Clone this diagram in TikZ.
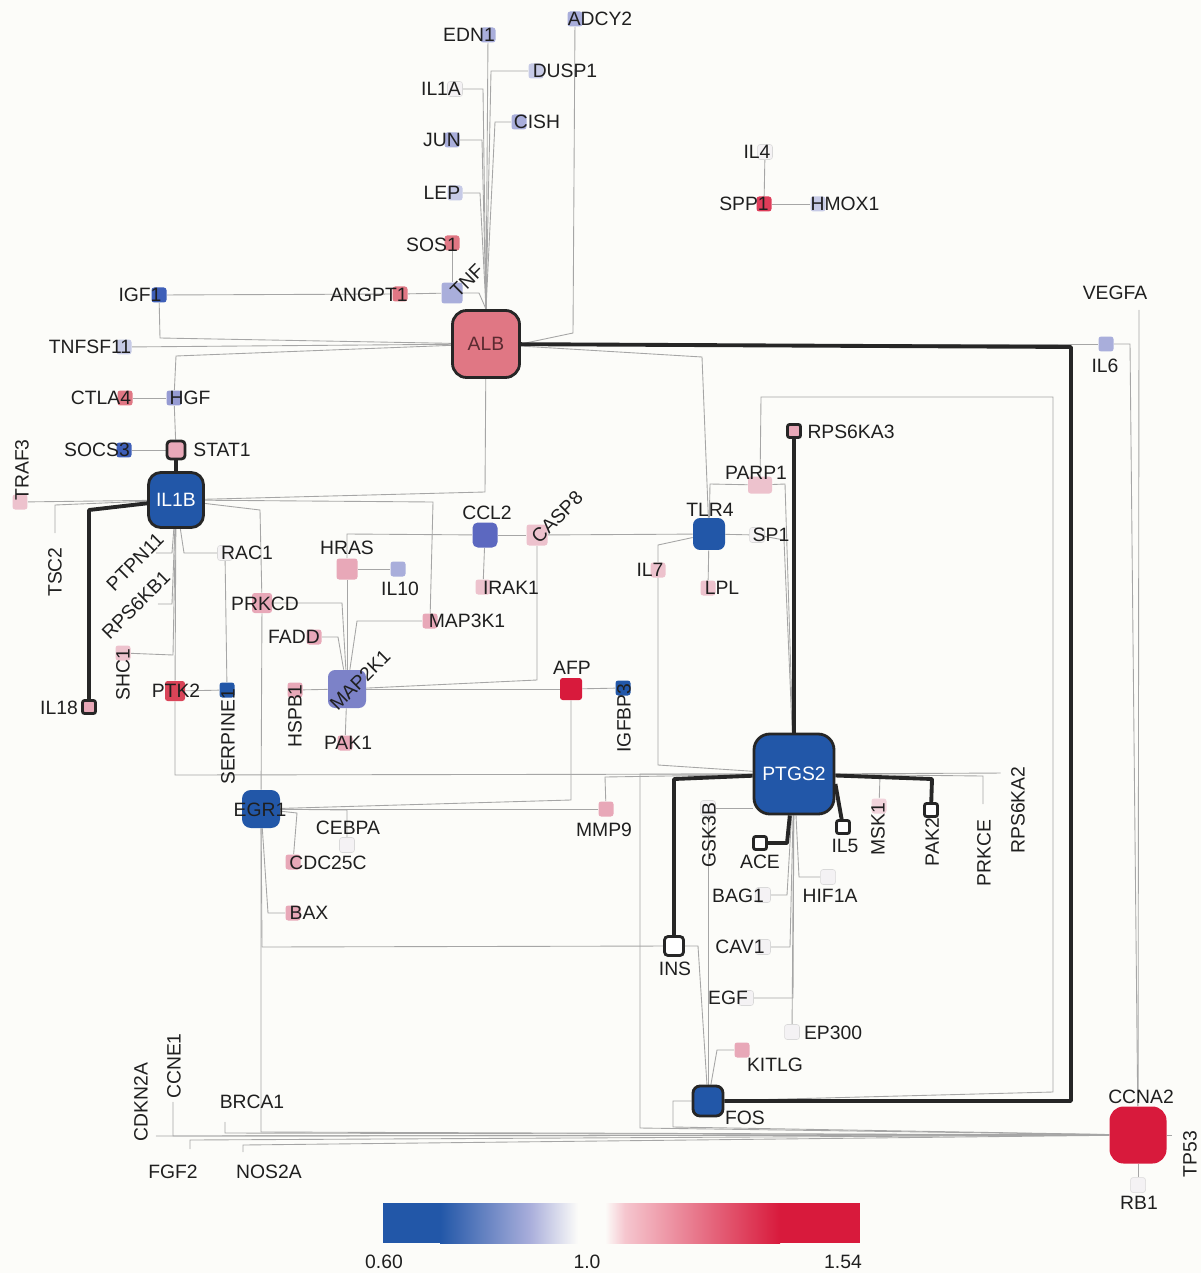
\documentclass[tikz,border=0pt]{standalone}
\usepackage{fontspec}
\setmainfont{Liberation Sans}
\usetikzlibrary{backgrounds, calc}
\definecolor{cBG}{HTML}{FCFCF9}
\definecolor{cBlue}{HTML}{2257A8}
\definecolor{cBlueM}{HTML}{3E5FB8}
\definecolor{cIndigo}{HTML}{5C68C0}
\definecolor{cMauve}{HTML}{7C82C8}
\definecolor{cLav}{HTML}{A9AEDB}
\definecolor{cLavL}{HTML}{C6CAE6}
\definecolor{cPink}{HTML}{E8A8B8}
\definecolor{cPinkL}{HTML}{EDC2CD}
\definecolor{cRose}{HTML}{E07784}
\definecolor{cRed}{HTML}{D81A3C}
\definecolor{cRedM}{HTML}{D94458}
\definecolor{cPale}{HTML}{F4F2F4}
\definecolor{cALBtxt}{HTML}{5A2A30}
\newcommand{\gfont}{\fontsize{11}{13}\selectfont}
\tikzset{
  genebox/.style={
    rectangle, fill=#1,
    rounded corners=1.5pt,
    minimum size=0.3cm,
    inner sep=0pt
  },
  palebox/.style={
    genebox=cPale,
    draw=black!15, line width=0.3pt
  },
  blankbox/.style={
    genebox=cBG
  },
  hubbox/.style={
    genebox=#1,
    draw=black!85, line width=1.6pt,
    rounded corners=1.2pt,
    font=\gfont
  },
  genelabel/.style={
    font=\gfont,
    text=black!88,
    inner sep=0pt
  },
  link/.style={
    draw=black!35, line width=0.5pt
  },
  boldlink/.style={
    draw=black!85, line width=2.2pt,
    line join=round
  }
}

\begin{document}
\begin{tikzpicture}[x=0.02cm, y=-0.02cm]
  \useasboundingbox (0,0) rectangle (1201,1273);

  % top fan round ALB
  \node[genebox=cLav] (ADCY2) at (575,19) {};
  \node[genebox=cLav] (EDN1) at (488,35) {};
  \node[palebox] (IL1A) at (455,89) {};
  \node[genebox=cLavL] (DUSP1) at (536,71) {};
  \node[genebox=cLav] (CISH) at (519,122) {};
  \node[genebox=cLav] (JUN) at (452,140) {};
  \node[genebox=cLavL] (LEP) at (455,193) {};
  \node[genebox=cRose] (SOS1) at (452,243) {};
  \node[genebox=cLav, minimum size=0.42cm] (TNF) at (452,293) {};
  \node[genebox=cRose] (ANGPT1) at (400,294) {};
  \node[genebox=cBlueM] (IGF1) at (159,295) {};
  \node[genebox=cLavL] (TNFSF11) at (124,347) {};
  \node[hubbox=cRose, minimum size=1.34cm, rounded corners=8pt, text=cALBtxt] (ALB) at (486,344) {ALB};
  \node[palebox] (IL4) at (765,152) {};
  \node[genebox=cRed!85!white] (SPP1) at (764,204) {};
  \node[genebox=cLavL] (HMOX1) at (818,204) {};
  \node[blankbox] (VEGFA) at (1139,302) {};
  \node[genebox=cLav] (IL6) at (1106,344) {};

  % IL1B cluster
  \node[genebox=cRose] (CTLA4) at (125,398) {};
  \node[genebox=cMauve!80!white] (HGF) at (174,398) {};
  \node[genebox=cBlueM] (SOCS3) at (124,450) {};
  \node[hubbox=cPink, minimum size=0.36cm, rounded corners=2pt] (STAT1) at (176,450) {};
  \node[genebox=cPinkL] (TRAF3) at (20,502) {};
  \node[hubbox=cBlue, minimum size=1.1cm, rounded corners=7pt, text=white] (IL1B) at (176,500) {IL1B};
  \node[blankbox] (TSC2) at (55,541) {};
  \node[blankbox] (PTPN11) at (148,553) {};
  \node[blankbox] (RPS6KB1) at (150,604) {};
  \node[genebox=cPinkL] (SHC1) at (123,653) {};
  \node[hubbox=cPink, minimum size=0.26cm] (IL18) at (89,707) {};
  \node[palebox] (RAC1) at (225,553) {};
  \node[genebox=cRedM, minimum size=0.4cm] (PTK2) at (175,691) {};
  \node[genebox=cBlue] (SERPINE1) at (227,690) {};
  \node[genebox=cPink, minimum size=0.4cm] (PRKCD) at (262,603) {};
  \node[genebox=cPink] (FADD) at (314,637) {};
  \node[genebox=cPink, minimum size=0.42cm] (HRAS) at (347,569) {};
  \node[genebox=cLav] (IL10) at (398,569) {};
  \node[genebox=cPink] (MAP3K1) at (430,621) {};
  \node[genebox=cMauve, minimum size=0.76cm, rounded corners=4pt] (MAP2K1) at (347,689) {};
  \node[genebox=cPink] (HSPB1) at (295,690) {};
  \node[genebox=cPink] (PAK1) at (345,743) {};

  % middle
  \node[genebox=cIndigo, minimum size=0.5cm, rounded corners=3pt] (CCL2) at (485,535) {};
  \node[genebox=cPinkL, minimum size=0.42cm] (CASP8) at (537,535) {};
  \node[genebox=cPinkL] (IRAK1) at (483,587) {};
  \node[genebox=cRed, minimum size=0.44cm] (AFP) at (571,689) {};
  \node[genebox=cBlue] (IGFBP3) at (623,688) {};
  \node[genebox=cBlue, minimum size=0.64cm, rounded corners=4pt] (TLR4) at (709,534) {};
  \node[palebox] (SP1) at (757,535) {};
  \node[genebox=cPinkL] (IL7) at (658,570) {};
  \node[genebox=cPinkL] (LPL) at (708,588) {};
  \node[genebox=cPinkL, minimum width=0.48cm, minimum height=0.34cm] (PARP1) at (760,485) {};
  \node[hubbox=cPink, minimum size=0.26cm] (RPS6KA3) at (794,431) {};

  % PTGS2 cluster
  \node[hubbox=cBlue, minimum size=1.6cm, rounded corners=9pt, text=white] (PTGS2) at (794,774) {PTGS2};
  \node[genebox=cBlue, minimum size=0.76cm, rounded corners=5pt] (EGR1) at (261,809) {};
  \node[palebox] (CEBPA) at (347,845) {};
  \node[genebox=cPink] (CDC25C) at (293,862) {};
  \node[genebox=cPink] (BAX) at (293,913) {};
  \node[genebox=cPink] (MMP9) at (606,809) {};
  \node[palebox] (GSK3B) at (708,808) {};
  \node[hubbox=white, minimum size=0.26cm] (ACE) at (760,843) {};
  \node[hubbox=white, minimum size=0.26cm] (IL5) at (843,827) {};
  \node[genebox=cPinkL!70!white] (MSK1) at (879,806) {};
  \node[hubbox=white, minimum size=0.26cm] (PAK2) at (931,810) {};
  \node[blankbox] (PRKCE) at (983,812) {};
  \node[blankbox] (RPS6KA2) at (1008,773) {};
  \node[palebox] (HIF1A) at (828,877) {};
  \node[palebox] (BAG1) at (763,895) {};
  \node[hubbox=white, minimum size=0.38cm, rounded corners=2pt] (INS) at (674,946) {};
  \node[palebox] (CAV1) at (763,947) {};
  \node[palebox] (EGF) at (746,998) {};
  \node[palebox] (EP300) at (792,1032) {};
  \node[genebox=cPink] (KITLG) at (742,1050) {};
  \node[hubbox=cBlue, minimum size=0.6cm, rounded corners=4pt] (FOS) at (708,1101) {};

  % bottom
  \node[genebox=cRed, minimum size=1.14cm, rounded corners=8pt] (CCNA2) at (1138,1135) {};
  \node[blankbox] (TP53) at (1180,1135) {};
  \node[palebox] (RB1) at (1138,1185) {};
  \node[blankbox] (CDKN2A) at (148,1136) {};
  \node[blankbox] (CCNE1) at (173,1094) {};
  \node[blankbox] (BRCA1) at (225,1114) {};
  \node[blankbox] (FGF2) at (190,1157) {};
  \node[blankbox] (NOS2A) at (243,1160) {};

  % labels
  \node[genelabel] (tADCY2) at (600,19) {ADCY2};
  \node[genelabel] (tEDN1) at (469,35) {EDN1};
  \node[genelabel] (tIL1A) at (441,89) {IL1A};
  \node[genelabel] (tDUSP1) at (565,71) {DUSP1};
  \node[genelabel] (tCISH) at (537,122) {CISH};
  \node[genelabel] (tJUN) at (442,140) {JUN};
  \node[genelabel] (tLEP) at (442,193) {LEP};
  \node[genelabel] (tSOS1) at (432,245) {SOS1};
  \node[genelabel, rotate=45] (tTNF) at (467,281) {TNF};
  \node[genelabel] (tANGPT1) at (369,295) {ANGPT1};
  \node[genelabel] (tIGF1) at (140,295) {IGF1};
  \node[genelabel] (tTNFSF11) at (90,347) {TNFSF11};
  \node[genelabel] (tIL4) at (757,152) {IL4};
  \node[genelabel] (tSPP1) at (744,204) {SPP1};
  \node[genelabel] (tHMOX1) at (845,204) {HMOX1};
  \node[genelabel] (tVEGFA) at (1115,293) {VEGFA};
  \node[genelabel] (tIL6) at (1105,366) {IL6};
  \node[genelabel] (tCTLA4) at (101,398) {CTLA4};
  \node[genelabel] (tHGF) at (190,398) {HGF};
  \node[genelabel] (tSOCS3) at (97,450) {SOCS3};
  \node[genelabel] (tSTAT1) at (222,450) {STAT1};
  \node[genelabel, rotate=90] (tTRAF3) at (22,470) {TRAF3};
  \node[genelabel, rotate=90] (tTSC2) at (55,572) {TSC2};
  \node[genelabel, rotate=45] (tPTPN11) at (135,562) {PTPN11};
  \node[genelabel, rotate=45] (tRPS6KB1) at (136,605) {RPS6KB1};
  \node[genelabel, rotate=90] (tSHC1) at (123,675) {SHC1};
  \node[genelabel] (tIL18) at (59,708) {IL18};
  \node[genelabel] (tRAC1) at (247,553) {RAC1};
  \node[genelabel] (tPTK2) at (176,691) {PTK2};
  \node[genelabel, rotate=90] (tSERPINE1) at (228,737) {SERPINE1};
  \node[genelabel] (tPRKCD) at (265,604) {PRKCD};
  \node[genelabel] (tFADD) at (294,637) {FADD};
  \node[genelabel] (tHRAS) at (347,548) {HRAS};
  \node[genelabel] (tIL10) at (400,589) {IL10};
  \node[genelabel] (tMAP3K1) at (467,621) {MAP3K1};
  \node[genelabel, rotate=45] (tMAP2K1) at (360,680) {MAP2K1};
  \node[genelabel, rotate=90] (tHSPB1) at (295,716) {HSPB1};
  \node[genelabel] (tPAK1) at (348,743) {PAK1};
  \node[genelabel] (tCCL2) at (487,513) {CCL2};
  \node[genelabel, rotate=45] (tCASP8) at (557,517) {CASP8};
  \node[genelabel] (tIRAK1) at (511,588) {IRAK1};
  \node[genelabel] (tAFP) at (572,668) {AFP};
  \node[genelabel, rotate=90] (tIGFBP3) at (624,718) {IGFBP3};
  \node[genelabel] (tTLR4) at (710,510) {TLR4};
  \node[genelabel] (tSP1) at (771,535) {SP1};
  \node[genelabel] (tIL7) at (650,570) {IL7};
  \node[genelabel] (tLPL) at (722,588) {LPL};
  \node[genelabel] (tPARP1) at (756,473) {PARP1};
  \node[genelabel] (tRPS6KA3) at (851,432) {RPS6KA3};
  \node[genelabel] (tEGR1) at (260,810) {EGR1};
  \node[genelabel] (tCEBPA) at (348,828) {CEBPA};
  \node[genelabel] (tCDC25C) at (328,863) {CDC25C};
  \node[genelabel] (tBAX) at (309,913) {BAX};
  \node[genelabel] (tMMP9) at (604,830) {MMP9};
  \node[genelabel, rotate=90] (tGSK3B) at (709,835) {GSK3B};
  \node[genelabel] (tACE) at (760,862) {ACE};
  \node[genelabel] (tIL5) at (845,846) {IL5};
  \node[genelabel, rotate=90] (tMSK1) at (878,829) {MSK1};
  \node[genelabel, rotate=90] (tPAK2) at (932,842) {PAK2};
  \node[genelabel, rotate=90] (tPRKCE) at (984,853) {PRKCE};
  \node[genelabel, rotate=90] (tRPS6KA2) at (1018,810) {RPS6KA2};
  \node[genelabel] (tHIF1A) at (830,896) {HIF1A};
  \node[genelabel] (tBAG1) at (738,896) {BAG1};
  \node[genelabel] (tINS) at (675,969) {INS};
  \node[genelabel] (tCAV1) at (740,947) {CAV1};
  \node[genelabel] (tEGF) at (728,998) {EGF};
  \node[genelabel] (tEP300) at (833,1033) {EP300};
  \node[genelabel] (tKITLG) at (775,1065) {KITLG};
  \node[genelabel] (tFOS) at (745,1118) {FOS};
  \node[genelabel] (tCCNA2) at (1141,1097) {CCNA2};
  \node[genelabel, rotate=90] (tTP53) at (1190,1154) {TP53};
  \node[genelabel] (tRB1) at (1139,1203) {RB1};
  \node[genelabel, rotate=90] (tCDKN2A) at (141,1102) {CDKN2A};
  \node[genelabel, rotate=90] (tCCNE1) at (174,1066) {CCNE1};
  \node[genelabel] (tBRCA1) at (252,1102) {BRCA1};
  \node[genelabel] (tFGF2) at (173,1172) {FGF2};
  \node[genelabel] (tNOS2A) at (269,1172) {NOS2A};

  % colour scale
  \fill[cBlue] (383,1203) rectangle (440,1243);
  \shade[left color=cBlue, right color=cLav] (440,1203) rectangle (530,1243);
  \shade[left color=cLav, right color=cBG] (530,1203) rectangle (578,1243);
  \shade[left color=cBG, right color=cRed!25!white] (605,1203) rectangle (625,1243);
  \shade[left color=cRed!25!white, right color=cRed] (625,1203) rectangle (780,1243);
  \fill[cRed] (780,1203) rectangle (860,1243);
  \node[genelabel] (vmin) at (384,1262) {0.60};
  \node[genelabel] (vmid) at (587,1262) {1.0};
  \node[genelabel] (vmax) at (843,1262) {1.54};

  \begin{scope}[on background layer]
    \fill[cBG] (0,0) rectangle (1201,1273);
    \draw[link] (ADCY2) -- (573,333) -- (ALB.east);
    \draw[link] (EDN1) -- (ALB.north);
    \draw[link] (IL1A) -- (483,89) -- (ALB.north);
    \draw[link] (DUSP1) -- (491,71) -- (ALB.north);
    \draw[link] (CISH) -- (495,122) -- (ALB.north);
    \draw[link] (JUN) -- (482,140) -- (ALB.north);
    \draw[link] (LEP) -- (480,193) -- (ALB.north);
    \draw[link] (TNF) -- (479,293) -- (ALB.north);
    \draw[link] (SOS1) -- (TNF);
    \draw[link] (ANGPT1) -- (TNF);
    \draw[link] (IGF1) -- (ANGPT1);
    \draw[link] (IGF1) -- (160,338) -- (ALB);
    \draw[link] (TNFSF11) -- (ALB);
    \draw[link] (HGF) -- (176,356) -- (ALB);
    \draw[link] (CTLA4) -- (HGF);
    \draw[link] (HGF) -- (STAT1);
    \draw[link] (SOCS3) -- (STAT1);
    \draw[link] (SPP1) -- (IL4);
    \draw[link] (SPP1) -- (HMOX1);
    \draw[link] (ALB) -- (IL6);
    \draw[link] (IL6) -- (1130,344) -- (CCNA2);
    \draw[link] (VEGFA) -- (CCNA2);
    \draw[link] (TRAF3) -- (IL1B);
    \draw[link] (TSC2) -- (55,505) -- (IL1B);
    \draw[link] (IL1B) -- (485,492) -- (ALB);
    \draw[link] (IL1B) -- (433,502) -- (MAP3K1);
    \draw[link] (PTPN11) -- (172,553) -- (IL1B);
    \draw[link] (RPS6KB1) -- (172,604) -- (IL1B);
    \draw[link] (SHC1) -- (173,655) -- (IL1B);
    \draw[link] (PTK2) -- (IL1B);
    \draw[link] (PTK2) -- (175,775) -- (PTGS2);
    \draw[link] (PTK2) -- (SERPINE1);
    \draw[link] (RAC1) -- (SERPINE1);
    \draw[link] (RAC1) -- (184,553) -- (IL1B);
    \draw[link] (IL1B) -- (260,510) -- (PRKCD);
    \draw[link] (PRKCD) -- (EGR1);
    \draw[link] (PRKCD) -- (342,603) -- (MAP2K1);
    \draw[link] (FADD) -- (338,637) -- (MAP2K1);
    \draw[link] (MAP3K1) -- (357,621) -- (MAP2K1);
    \draw[link] (HRAS) -- (MAP2K1);
    \draw[link] (HRAS) -- (IL10);
    \draw[link] (HRAS) -- (347,534) -- (CCL2);
    \draw[link] (CCL2) -- (CASP8);
    \draw[link] (CASP8) -- (TLR4);
    \draw[link] (CCL2) -- (IRAK1);
    \draw[link] (CASP8) -- (537,680) -- (MAP2K1);
    \draw[link] (HSPB1) -- (MAP2K1);
    \draw[link] (PAK1) -- (MAP2K1);
    \draw[link] (MAP2K1) -- (AFP);
    \draw[link] (AFP) -- (IGFBP3);
    \draw[link] (AFP) -- (571,800) -- (EGR1);
    \draw[link] (MMP9) -- (EGR1);
    \draw[link] (MMP9) -- (605,777) -- (PTGS2);
    \draw[link] (EGR1) -- (347,810) -- (CEBPA);
    \draw[link] (EGR1) -- (297,813) -- (CDC25C);
    \draw[link] (BAX) -- (268,913) -- (EGR1);
    \draw[link] (EGR1) -- (262,947) -- (INS);
    \draw[link] (EGR1) -- (261,1132) -- (CCNA2);
    \draw[link] (ALB) -- (702,357) -- (TLR4);
    \draw[link] (TLR4) -- (SP1);
    \draw[link] (TLR4) -- (LPL);
    \draw[link] (TLR4) -- (658,545) -- (IL7);
    \draw[link] (IL7) -- (658,765) -- (PTGS2);
    \draw[link] (PARP1) -- (710,484) -- (TLR4);
    \draw[link] (PARP1) -- (785,484) -- (PTGS2);
    \draw[link] (SP1) -- (784,540) -- (PTGS2);
    \draw[link] (PARP1) -- (761,397) -- (1053,397) -- (1053,1092) -- (FOS);
    \draw[link] (GSK3B) -- (GSK3B -| PTGS2.west);
    \draw[link] (GSK3B) -- (FOS);
    \draw[link] (PTGS2) -- (880,776) -- (MSK1);
    \draw[link] (PTGS2) -- (983,776) -- (PRKCE);
    \draw[link] (PTGS2) -- (1008,773) -- (RPS6KA2);
    \draw[link] (HIF1A) -- (799,877) -- (PTGS2);
    \draw[link] (BAG1) -- (787,895) -- (PTGS2);
    \draw[link] (CAV1) -- (790,947) -- (PTGS2);
    \draw[link] (EGF) -- (793,998) -- (PTGS2);
    \draw[link] (EP300) -- (PTGS2);
    \draw[link] (KITLG) -- (717,1050) -- (FOS);
    \draw[link] (INS) -- (698,946) -- (FOS);
    \draw[link] (FOS) -- (673,1101) -- (673,1127) -- (CCNA2);
    \draw[link] (PTGS2) -- (640,774) -- (640,1128) -- (CCNA2);
    \draw[link] (CCNA2) -- (TP53);
    \draw[link] (CCNA2) -- (RB1);
    \draw[link] (CDKN2A) -- (CCNA2);
    \draw[link] (CCNE1) -- (173,1136) -- (CCNA2);
    \draw[link] (BRCA1) -- (225,1133) -- (CCNA2);
    \draw[link] (FGF2) -- (190,1140) -- (CCNA2);
    \draw[link] (NOS2A) -- (243,1145) -- (CCNA2);
    \draw[boldlink] (STAT1) -- (IL1B);
    \draw[boldlink] (IL18) -- (89,510) -- (IL1B);
    \draw[boldlink] (RPS6KA3) -- (PTGS2);
    \draw[boldlink] (PTGS2) -- (674,779) -- (INS);
    \draw[boldlink] (ACE) -- (787,843) -- (PTGS2);
    \draw[boldlink] (IL5) -- ($(PTGS2.east)+(0,10)$);
    \draw[boldlink] (PTGS2) -- (932,779) -- (PAK2);
    \draw[boldlink] (FOS) -- (1071,1101) -- (1071,347) -- (ALB);
  \end{scope}
\end{tikzpicture}
\end{document}
